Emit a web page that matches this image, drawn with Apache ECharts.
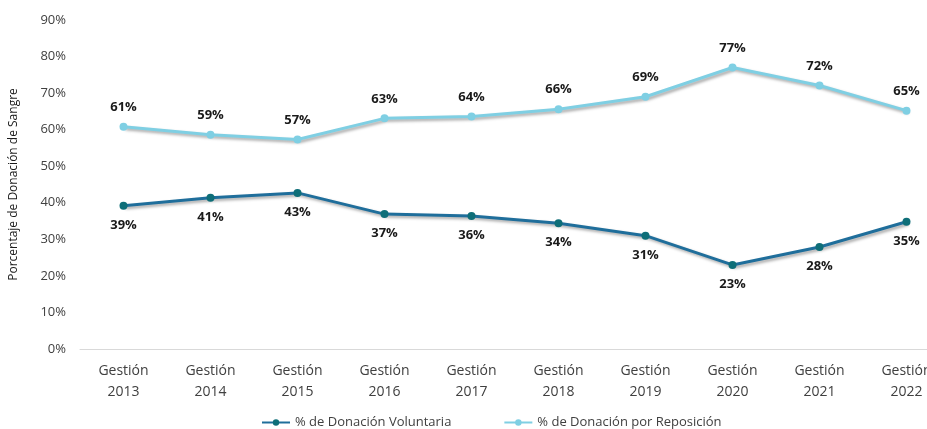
<!DOCTYPE html>
<html>
<head>
<meta charset="utf-8">
<script src="https://cdn.jsdelivr.net/npm/echarts@6/dist/echarts.min.js"></script>
<style>
  html, body { margin: 0; padding: 0; background: #fff; overflow: hidden; }
  #chart { width: 950px; height: 429px; }
</style>
</head>
<body>
<div id="chart"></div>
<script>
// categorias y valores (porcentaje)
const categorias = ["Gestión\n2013", "Gestión\n2014", "Gestión\n2015", "Gestión\n2016", "Gestión\n2017",
  "Gestión\n2018", "Gestión\n2019", "Gestión\n2020", "Gestión\n2021", "Gestión\n2022"];
const voluntaria = [39.2, 41.4, 42.7, 36.9, 36.4, 34.4, 31.0, 23.0, 27.9, 34.8];
const reposicion = [60.8, 58.6, 57.3, 63.1, 63.6, 65.6, 69.0, 77.0, 72.1, 65.2];
const nombres = ["% de Donación Voluntaria", "% de Donación por Reposición"];

const FONT = "'Open Sans', 'Noto Sans', sans-serif";
const chart = echarts.init(document.getElementById("chart"));

function serie(name, data, color, markerColor, labelPos) {
  return {
    name: name,
    type: "line",
    data: data,
    symbol: "circle",
    symbolSize: 8,
    itemStyle: { color: markerColor },
    lineStyle: {
      color: color,
      width: 3,
      shadowColor: "rgba(0,0,0,0.35)",
      shadowBlur: 3,
      shadowOffsetX: 2,
      shadowOffsetY: 2,
    },
    label: {
      show: true,
      position: labelPos,
      distance: 9,
      fontFamily: FONT,
      fontWeight: "bold",
      fontSize: 13,
      color: "#1a1a1a",
      formatter: (p) => Math.round(p.value) + "%",
    },
  };
}

chart.setOption({
  animation: false,
  textStyle: { fontFamily: FONT },
  grid: { left: 80, right: 0, top: 20, bottom: 80, containLabel: false },
  legend: {
    top: 411,
    left: 256,
    itemGap: 52,
    itemWidth: 28,
    itemHeight: 8,
    textStyle: { color: "#404040", fontSize: 13, fontFamily: FONT },
    data: nombres,
  },
  xAxis: {
    type: "category",
    data: categorias,
    boundaryGap: true,
    axisLine: { lineStyle: { color: "#d9d9d9", width: 1 } },
    axisTick: { show: false },
    axisLabel: { color: "#404040", fontSize: 14, lineHeight: 21, margin: 12, interval: 0 },
  },
  yAxis: {
    type: "value",
    min: 0,
    max: 90,
    interval: 10,
    name: "Porcentaje de Donación de Sangre",
    nameLocation: "middle",
    nameGap: 60,
    nameTextStyle: { color: "#1a1a1a", fontSize: 12 },
    axisLine: { show: false },
    axisTick: { show: false },
    splitLine: { show: false },
    axisLabel: { color: "#404040", fontSize: 13, margin: 14, formatter: "{value}%" },
  },
  series: [
    serie(nombres[0], voluntaria, "#1F6E9B", "#0E6E78", "bottom"),
    serie(nombres[1], reposicion, "#7FCFE3", "#7FCFE3", "top"),
  ],
});
</script>
</body>
</html>
